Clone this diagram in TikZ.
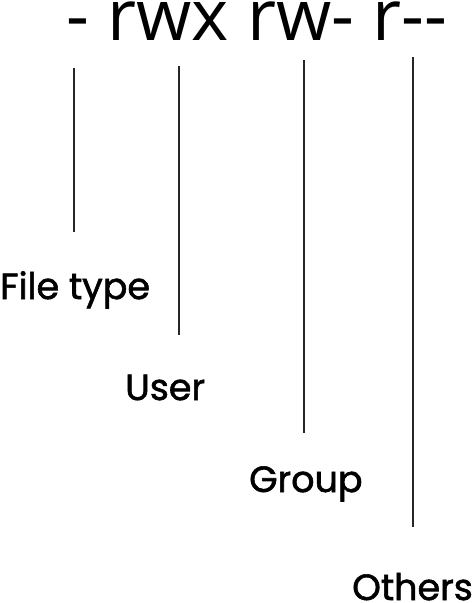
\documentclass[tikz,border=0pt]{standalone}
\usepackage{fontspec}
\setmainfont{Open Sans}
\newfontfamily\labelfont[FakeBold=1.6]{Poppins}
\begin{document}
\begin{tikzpicture}[x=1pt,y=1pt,
  perm/.style={inner sep=0pt,anchor=base west,font=\fontsize{71}{71}\selectfont},
  lbl/.style={inner sep=0pt,anchor=base west,font=\labelfont\fontsize{36.5}{36.5}\selectfont},
  tick/.style={draw=black!85,line width=2.2pt}]
\useasboundingbox (0,0) rectangle (474,-603);
\node[perm] (perms) at (66,-40) {-{} rwx rw-{} r{-}{-}};
\coordinate (a1) at (74,-68);  \coordinate (a2) at (74,-232);
\coordinate (b1) at (179,-66); \coordinate (b2) at (179,-335);
\coordinate (c1) at (304,-60); \coordinate (c2) at (304,-433);
\coordinate (d1) at (413,-57); \coordinate (d2) at (413,-527);
\draw[tick] (a1) -- (a2);
\draw[tick] (b1) -- (b2);
\draw[tick] (c1) -- (c2);
\draw[tick] (d1) -- (d2);
\node[lbl] (ft) at (0,-299) {File type};
\node[lbl] (us) at (125,-400) {User};
\node[lbl] (gr) at (249,-492) {Group};
\node[lbl] (ot) at (352,-600) {Others};
\end{tikzpicture}
\end{document}
